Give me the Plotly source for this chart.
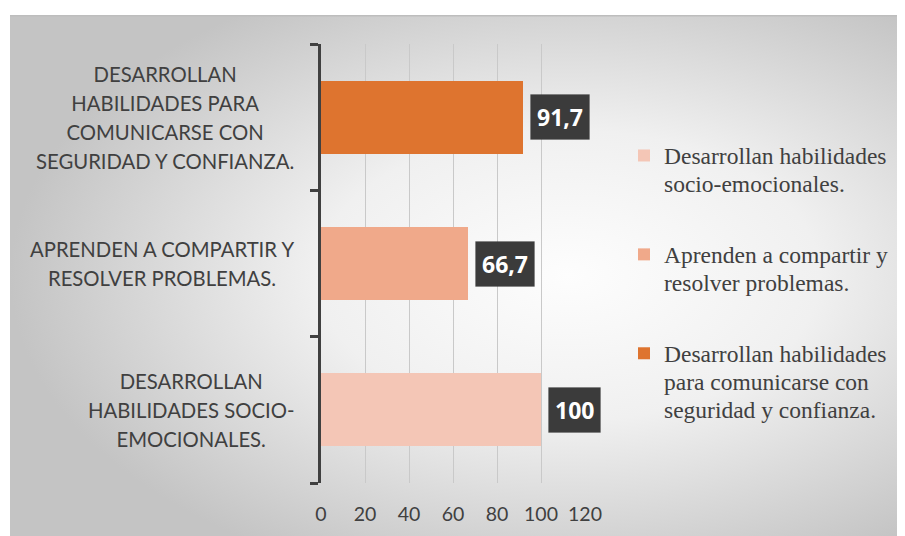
import base64
import plotly.graph_objects as go

# datos del gráfico
categorias = [
    "DESARROLLAN<br>HABILIDADES SOCIO-<br>EMOCIONALES.",
    "APRENDEN A COMPARTIR Y<br>RESOLVER PROBLEMAS.",
    "DESARROLLAN<br>HABILIDADES PARA<br>COMUNICARSE CON<br>SEGURIDAD Y CONFIANZA.",
]
leyendas = [
    "Desarrollan habilidades<br>socio-emocionales.",
    "Aprenden a compartir y<br>resolver problemas.",
    "Desarrollan habilidades<br>para comunicarse con<br>seguridad y confianza.",
]
valores = [100, 66.7, 91.7]
etiquetas = ["100", "66,7", "91,7"]
colores = ["#f4c6b6", "#f0a98a", "#de742f"]
ticks_x = [0, 20, 40, 60, 80, 100, 120]

TEXTO = "#404040"

# la página deja 8px de margen, las posiciones se dan en coordenadas de la figura
L, T, W, H = 313, 36, 264, 439

# fondo con degradado radial (svg embebido)
svg = """<svg xmlns='http://www.w3.org/2000/svg' width='900' height='521' preserveAspectRatio='none'>
<defs><radialGradient id='g' cx='0.62' cy='0.5' r='0.62'>
<stop offset='0' stop-color='#fdfdfd'/><stop offset='0.45' stop-color='#f0f0f0'/>
<stop offset='1' stop-color='#c4c4c4'/></radialGradient></defs>
<rect width='900' height='521' fill='url(#g)'/>
<rect x='0' y='0' width='900' height='1.5' fill='#bdbdbd'/>
</svg>"""
fondo = "data:image/svg+xml;base64," + base64.b64encode(svg.encode()).decode()


def span(texto, px):
    return "<br>".join('<span style="font-size:%spx">%s</span>' % (px, l) for l in texto.split("<br>"))


fig = go.Figure()

for i in range(len(valores)):
    fig.add_trace(go.Bar(
        y=[categorias[i]],
        x=[valores[i]],
        orientation="h",
        name=span(leyendas[i], 23.5),
        legendgroup=str(i),
        marker=dict(color=colores[i], line=dict(width=0)),
        width=0.5,
        hoverinfo="x",
    ))
    # etiqueta de valor en recuadro oscuro
    fig.add_annotation(
        x=valores[i], y=categorias[i], xref="x", yref="y",
        text="<b>" + etiquetas[i] + "</b>",
        showarrow=False, xanchor="left", xshift=7,
        font=dict(family="Open Sans", size=23, color="white"),
        bgcolor="#3b3b3b", borderpad=6,
        bordercolor="rgba(0,0,0,0.12)", borderwidth=1,
    )
    # etiqueta de categoría centrada
    fig.add_annotation(
        x=(288 - L) / W, y=categorias[i], xref="paper", yref="y",
        text=span(categorias[i], 20.3), showarrow=False,
        xanchor="right", align="center",
        font=dict(family="Lato", size=22.3, color=TEXTO),
    )

fig.add_layout_image(
    source=fondo, xref="paper", yref="paper",
    x=(2 - L) / W, y=(T + H - 7) / H,
    sizex=901 / W, sizey=521 / H,
    sizing="stretch", layer="below", xanchor="left", yanchor="top",
)

fig.update_layout(
    width=905, height=536,
    margin=dict(l=L, r=905 - L - W, t=T, b=536 - T - H),
    paper_bgcolor="white",
    plot_bgcolor="rgba(0,0,0,0)",
    barmode="stack",
    showlegend=True,
    legend=dict(
        x=(616 - L) / W, xanchor="left",
        y=(T + H - 127) / H, yanchor="top",
        traceorder="grouped", tracegroupgap=40,
        valign="top",
        font=dict(family="Liberation Serif", size=21.5, color=TEXTO),
        bgcolor="rgba(0,0,0,0)",
    ),
    xaxis=dict(
        range=[0, 120], tickvals=ticks_x,
        showgrid=True, gridcolor="#c9c9c9", gridwidth=1,
        zeroline=False, showline=False, ticks="",
        tickfont=dict(family="Lato", size=19.5, color=TEXTO),
        ticklabelstandoff=17,
    ),
    yaxis=dict(
        type="category", categoryorder="array", categoryarray=categorias,
        range=[-0.5, 2.5],
        showticklabels=False, showgrid=False, zeroline=False,
        showline=True, linecolor=TEXTO, linewidth=3,
        ticks="outside", tickson="boundaries", ticklen=8, tickwidth=3, tickcolor=TEXTO,
    ),
)

fig.write_html("out.html")
